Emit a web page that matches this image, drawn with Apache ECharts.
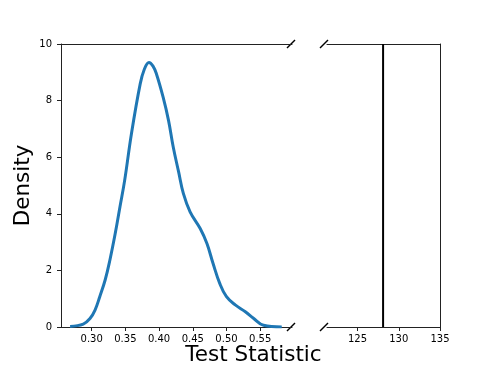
<!DOCTYPE html>
<html>
<head>
<meta charset="utf-8">
<script src="https://cdn.jsdelivr.net/npm/echarts@6/dist/echarts.min.js"></script>
<style>
  html, body { margin: 0; padding: 0; background: #fff; }
  #chart { width: 490px; height: 368px; }
</style>
</head>
<body>
<div id="chart"></div>
<script>
// KDE curve (test statistic vs density)
var kdeX = [0.268, 0.2875, 0.2975, 0.305, 0.312, 0.320, 0.327, 0.335, 0.342, 0.349,
            0.359, 0.372, 0.378, 0.385, 0.391, 0.396, 0.406, 0.414, 0.421, 0.429,
            0.436, 0.446, 0.461, 0.471, 0.480, 0.490, 0.500, 0.513, 0.528, 0.540,
            0.555, 0.582];
var kdeY = [0.02, 0.10, 0.30, 0.60, 1.07, 1.66, 2.36, 3.31, 4.25, 5.19,
            6.83, 8.59, 9.10, 9.35, 9.22, 8.95, 8.12, 7.30, 6.36, 5.48,
            4.72, 4.07, 3.48, 2.95, 2.25, 1.54, 1.07, 0.78, 0.54, 0.31,
            0.06, 0.00];
var observedStat = 128.1;
var leftTicks = [0.30, 0.35, 0.40, 0.45, 0.50, 0.55];
var rightTicks = [125, 130, 135];

var kdeData = kdeX.map(function (x, i) { return [x, kdeY[i]]; });

var chart = echarts.init(document.getElementById('chart'), null, { renderer: 'canvas' });

var spine = { show: true, onZero: false, lineStyle: { color: '#222', width: 1 } };
var labelFont = { fontFamily: 'DejaVu Sans', fontSize: 10, color: '#000' };

chart.setOption({
  animation: false,
  grid: [
    { left: 61, top: 44, width: 231, height: 283 },
    { left: 327, top: 44, width: 113, height: 283 }
  ],
  xAxis: [
    {
      gridIndex: 0, type: 'value', position: 'bottom',
      min: 0.2545, max: 0.5972,
      axisLine: spine,
      axisTick: { show: true, length: 4, lineStyle: { color: '#222' }, customValues: leftTicks },
      axisLabel: Object.assign({ margin: 7, customValues: leftTicks,
        formatter: function (v) { return v.toFixed(2); } }, labelFont),
      splitLine: { show: false }
    },
    {
      gridIndex: 1, type: 'value', position: 'bottom',
      min: 121.3, max: 135,
      axisLine: spine,
      axisTick: { show: true, length: 4, lineStyle: { color: '#222' }, customValues: rightTicks },
      axisLabel: Object.assign({ margin: 7, customValues: rightTicks }, labelFont),
      splitLine: { show: false }
    },
    // top spines
    { gridIndex: 0, type: 'value', position: 'top', min: 0, max: 1,
      axisLine: spine, axisTick: { show: false }, axisLabel: { show: false }, splitLine: { show: false } },
    { gridIndex: 1, type: 'value', position: 'top', min: 0, max: 1,
      axisLine: spine, axisTick: { show: false }, axisLabel: { show: false }, splitLine: { show: false } }
  ],
  yAxis: [
    {
      gridIndex: 0, type: 'value', min: 0, max: 10, interval: 2, position: 'left',
      axisLine: spine,
      axisTick: { show: true, length: 4, lineStyle: { color: '#222' } },
      axisLabel: Object.assign({ margin: 9 }, labelFont),
      splitLine: { show: false },
      name: 'Density', nameLocation: 'middle', nameGap: 27,
      nameTextStyle: { fontFamily: 'DejaVu Sans', fontSize: 21.5, color: '#000' }
    },
    {
      gridIndex: 1, type: 'value', min: 0, max: 10, position: 'right',
      axisLine: spine, axisTick: { show: false }, axisLabel: { show: false },
      splitLine: { show: false }
    }
  ],
  series: [
    {
      type: 'line', xAxisIndex: 0, yAxisIndex: 0,
      data: kdeData, smooth: 0.4, symbol: 'none',
      lineStyle: { color: '#1f77b4', width: 3 }
    },
    {
      type: 'line', xAxisIndex: 1, yAxisIndex: 1,
      data: [[observedStat, 0], [observedStat, 10]], symbol: 'none',
      lineStyle: { color: '#000', width: 2 }
    }
  ],
  graphic: [
    { type: 'text', x: 253.5, y: 355.5,
      style: { text: 'Test Statistic', fontFamily: 'DejaVu Sans', fontSize: 21.5, fill: '#000',
        align: 'center', verticalAlign: 'middle' } },
    // axis break marks
    { type: 'line', shape: { x1: 287, y1: 48, x2: 295, y2: 40 }, style: { stroke: '#000', lineWidth: 1.5 } },
    { type: 'line', shape: { x1: 287, y1: 331, x2: 295, y2: 323 }, style: { stroke: '#000', lineWidth: 1.5 } },
    { type: 'line', shape: { x1: 320, y1: 48, x2: 328, y2: 40 }, style: { stroke: '#000', lineWidth: 1.5 } },
    { type: 'line', shape: { x1: 320, y1: 331, x2: 328, y2: 323 }, style: { stroke: '#000', lineWidth: 1.5 } }
  ]
});
</script>
</body>
</html>
